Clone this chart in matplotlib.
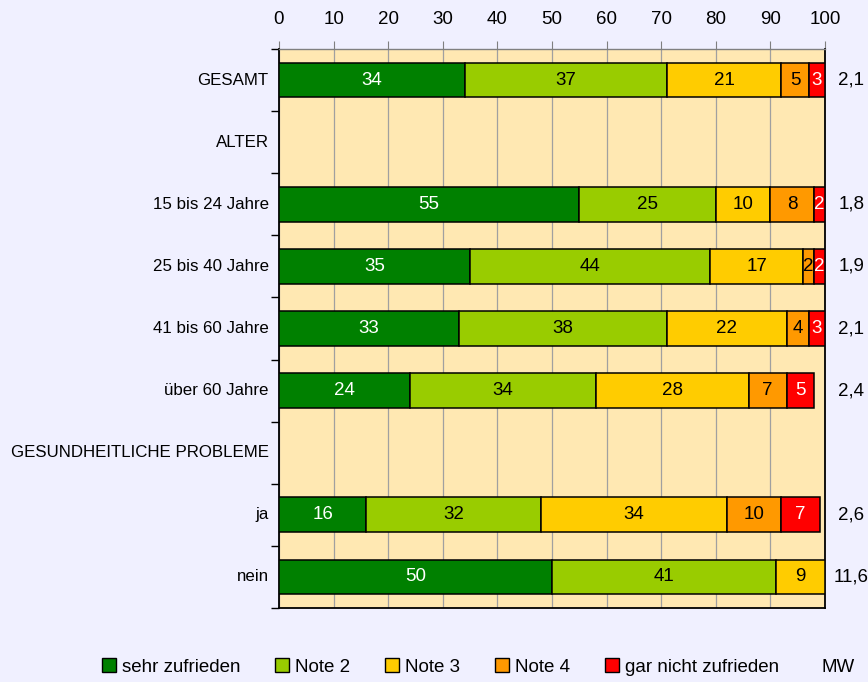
import matplotlib
matplotlib.use("Agg")
import matplotlib.pyplot as plt
from matplotlib.patches import Patch

plt.rcParams['font.family'] = ['Liberation Sans', 'DejaVu Sans']

categories = ["GESAMT", "ALTER", "15 bis 24 Jahre", "25 bis 40 Jahre", "41 bis 60 Jahre",
              "über 60 Jahre", "GESUNDHEITLICHE PROBLEME", "ja", "nein"]
series_names = ["sehr zufrieden", "Note 2", "Note 3", "Note 4", "gar nicht zufrieden"]
sehr_zufrieden = [34, 0, 55, 35, 33, 24, 0, 16, 50]
note2 = [37, 0, 25, 44, 38, 34, 0, 32, 41]
note3 = [21, 0, 10, 17, 22, 28, 0, 34, 9]
note4 = [5, 0, 8, 2, 4, 7, 0, 10, 0]
gar_nicht = [3, 0, 2, 2, 3, 5, 0, 7, 0]
mw = ["2,1", "", "1,8", "1,9", "2,1", "2,4", "", "2,6", "11,6"]
xticks = [0, 10, 20, 30, 40, 50, 60, 70, 80, 90, 100]

colors = ["#008000", "#99CC00", "#FFCC00", "#FF9900", "#FF0000"]
text_colors = ["white", "black", "black", "black", "white"]
series = [sehr_zufrieden, note2, note3, note4, gar_nicht]

W, H = 868, 682
fig = plt.figure(figsize=(W / 100, H / 100), dpi=100)
fig.patch.set_facecolor("#F0F0FF")
ax = fig.add_axes([279 / W, 1 - 608 / H, (825 - 279) / W, (608 - 49) / H])
ax.set_facecolor("#FFE8B2")

left = [0] * len(categories)
for vals, col, tcol in zip(series, colors, text_colors):
    for i, v in enumerate(vals):
        if v > 0:
            ax.barh(i, v, left=left[i], height=0.56, color=col, edgecolor="black",
                    linewidth=1.1, zorder=3)
            ax.text(left[i] + v / 2, i, str(v), ha="center", va="center",
                    color=tcol, fontsize=13.5, zorder=4)
        left[i] += v

for i, m in enumerate(mw):
    if m:
        ax.text(104.8, i, m, ha="center", va="center", fontsize=13.5, clip_on=False)

ax.set_xlim(0, 100)
ax.set_ylim(len(categories) - 0.5, -0.5)
ax.xaxis.tick_top()
ax.set_xticks(xticks)
ax.set_xticklabels([str(t) for t in xticks], fontsize=13.5)
ax.tick_params(axis="x", direction="out", length=6, color="#808080", pad=9)
ax.grid(axis="x", color="#A0A0A0", linewidth=0.9, zorder=1)
ax.set_axisbelow(True)

ax.set_yticks([i - 0.5 for i in range(len(categories) + 1)])
ax.set_yticklabels([])
ax.tick_params(axis="y", direction="out", length=6, color="black", width=1)
for i, c in enumerate(categories):
    ax.text(-1.9, i, c, ha="right", va="center", fontsize=12.2)

for s in ["left", "bottom", "right"]:
    ax.spines[s].set_color("black")
    ax.spines[s].set_linewidth(1.3)
ax.spines["top"].set_color("#808080")
ax.spines["top"].set_linewidth(1.0)

handles = [Patch(facecolor=c, edgecolor="black", linewidth=1.0) for c in colors]
fig.legend(handles, series_names, loc="center", bbox_to_anchor=(440.5 / W, 1 - 667 / H),
           ncol=5, frameon=False, fontsize=13.5, handlelength=0.75, handleheight=0.75,
           handletextpad=0.32, columnspacing=1.85, borderpad=0, borderaxespad=0)
fig.text(838 / W, 1 - 667 / H, "MW", ha="center", va="center", fontsize=13.5)

fig.savefig("out.png", dpi=100, facecolor=fig.get_facecolor())
